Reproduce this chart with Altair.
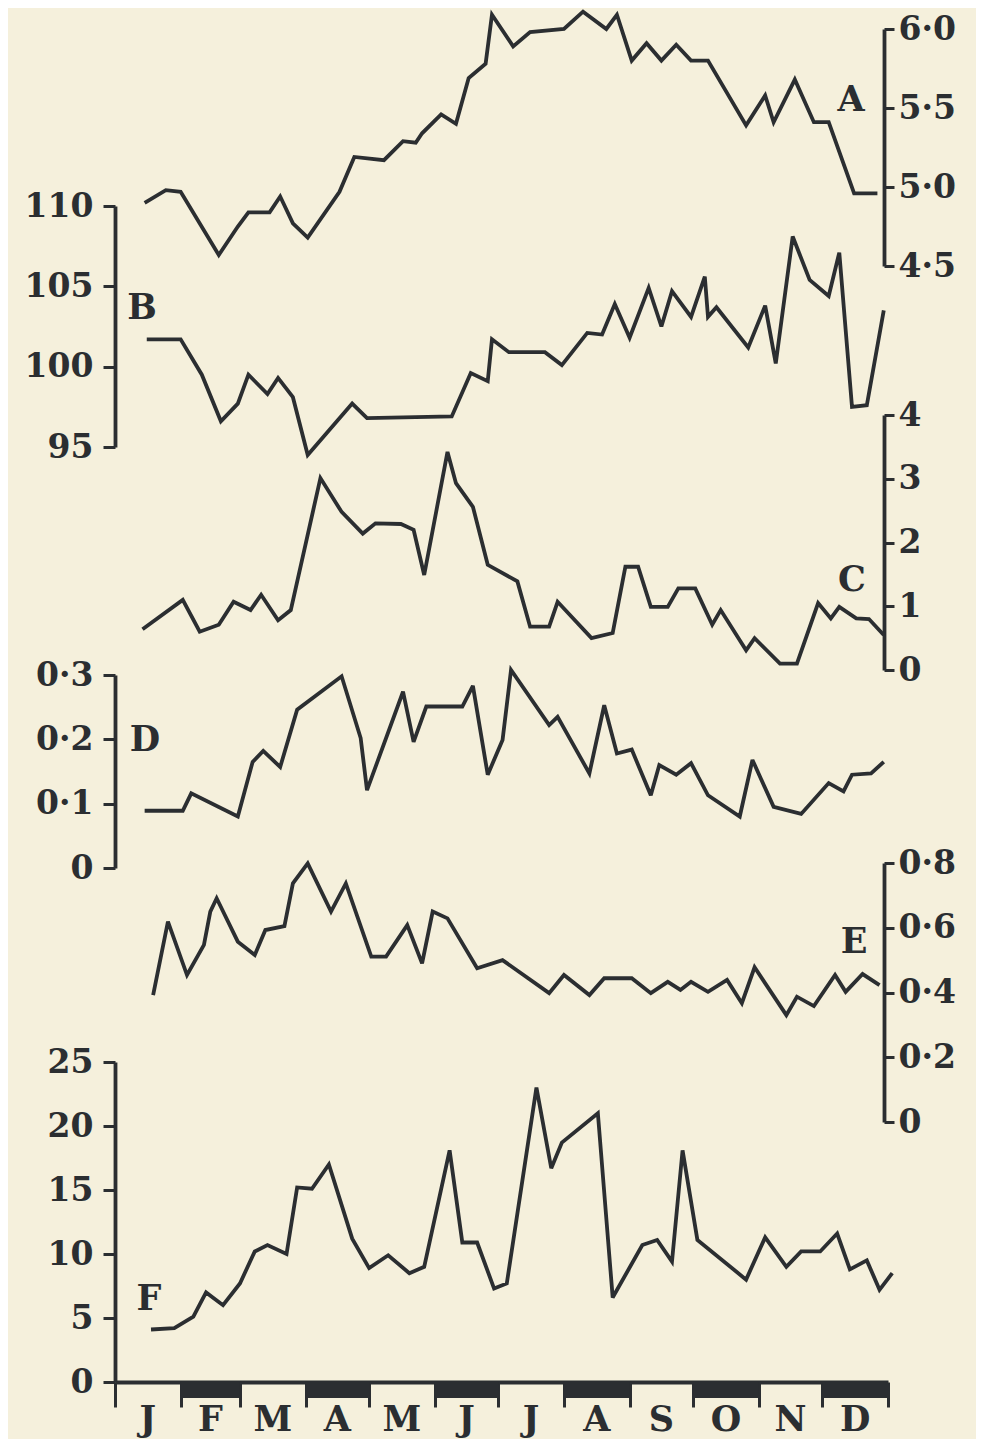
import altair as alt
import pandas as pd

INK = "#2b2e31"
BG = "#f5f0dc"
FONT = "DejaVu Serif"

# ---- data (x = day of year) ----
months = ["J", "F", "M", "A", "M", "J", "J", "A", "S", "O", "N", "D"]
month_start = [0, 31, 59, 90, 120, 151, 181, 212, 243, 273, 304, 334, 365]

a_day = [14, 24, 31, 49, 58, 63, 73, 78, 84, 91, 106, 113, 127, 136, 142, 145, 154, 161, 167, 175,
         178, 188, 196, 212, 221, 232, 237, 244, 251, 258, 265, 272, 280, 298, 307, 311, 321, 330, 337, 349, 360]
a_val = [4.90, 4.98, 4.97, 4.57, 4.75, 4.84, 4.84, 4.94, 4.77, 4.68, 4.97, 5.19, 5.17, 5.29, 5.28, 5.34, 5.46, 5.40, 5.69, 5.78,
         6.09, 5.89, 5.98, 6.00, 6.11, 6.00, 6.09, 5.80, 5.91, 5.80, 5.90, 5.80, 5.80, 5.39, 5.58, 5.41, 5.68, 5.41, 5.41, 4.96, 4.96]

b_day = [15, 31, 41, 50, 58, 63, 72, 77, 84, 91, 112, 119, 159, 168, 176, 178, 186, 203, 211, 223,
         230, 236, 243, 252, 258, 263, 272, 278.5, 280, 284, 299, 307, 312, 320, 328, 337, 342, 348, 355, 363]
b_val = [101.7, 101.7, 99.5, 96.6, 97.7, 99.5, 98.3, 99.3, 98.1, 94.5, 97.7, 96.8, 96.9, 99.6, 99.1, 101.7, 100.9, 100.9, 100.1, 102.1,
         102.0, 103.9, 101.8, 104.9, 102.5, 104.7, 103.1, 105.6, 103.1, 103.7, 101.2, 103.8, 100.2, 108.1, 105.4, 104.4, 107.1, 97.5, 97.6, 103.5]

c_day = [13, 32, 40, 49, 56, 64, 69, 77, 83, 97, 107, 117, 123, 135, 141, 146, 157, 161, 169, 176,
         190, 196, 205, 209, 225, 235, 241, 247, 253, 261, 266, 274, 282, 286, 298, 302, 314, 322, 332, 338,
         342, 350, 356, 363]
c_val = [0.64, 1.10, 0.60, 0.71, 1.07, 0.94, 1.18, 0.78, 0.94, 3.01, 2.48, 2.14, 2.30, 2.29, 2.20, 1.49, 3.42, 2.93, 2.56, 1.65,
         1.39, 0.68, 0.68, 1.07, 0.50, 0.58, 1.62, 1.62, 0.99, 0.99, 1.28, 1.28, 0.71, 0.94, 0.31, 0.50, 0.10, 0.10, 1.05, 0.81,
         0.99, 0.81, 0.80, 0.55]

d_day = [14, 32, 36, 58, 65, 70, 78, 86, 107, 116, 119, 136, 141, 147, 164, 169, 176, 183, 187, 205,
         209, 224, 231, 237, 244, 253, 257, 265, 272, 280, 295, 301, 311, 324, 337, 344, 348, 357, 363]
d_val = [0.089, 0.089, 0.116, 0.080, 0.165, 0.182, 0.157, 0.246, 0.298, 0.202, 0.121, 0.274, 0.196, 0.251, 0.251, 0.283, 0.145, 0.199, 0.308, 0.222,
         0.235, 0.147, 0.253, 0.178, 0.184, 0.113, 0.160, 0.145, 0.163, 0.113, 0.080, 0.168, 0.095, 0.084, 0.132, 0.119, 0.145, 0.147, 0.165]

e_day = [18, 25, 34, 42, 45, 48, 58, 66, 71, 80, 84, 91, 102, 109, 121, 128, 138, 145, 150, 157,
         171, 183, 205, 212, 224, 231, 244, 253, 261, 267, 272, 280, 289, 296, 302, 317, 322, 330, 340, 345,
         353, 361]
e_val = [0.392, 0.619, 0.454, 0.547, 0.650, 0.691, 0.557, 0.516, 0.593, 0.605, 0.737, 0.799, 0.650, 0.737, 0.511, 0.511, 0.608, 0.490, 0.650, 0.629,
         0.475, 0.500, 0.398, 0.454, 0.392, 0.444, 0.444, 0.398, 0.433, 0.408, 0.433, 0.402, 0.439, 0.367, 0.478, 0.330, 0.387, 0.358, 0.454, 0.402,
         0.457, 0.423]

f_day = [17, 28, 37, 43, 51, 59, 66, 72, 81, 86, 93, 101, 112, 120, 129, 139, 146, 158, 164, 171,
         179, 185, 199, 206, 211, 228, 235, 249, 256, 263, 268, 275, 298, 307, 317, 324, 333, 341, 347, 355,
         361, 367]
f_val = [4.1, 4.2, 5.1, 7.0, 6.0, 7.7, 10.2, 10.7, 10.0, 15.2, 15.1, 17.0, 11.2, 8.9, 9.9, 8.5, 9.0, 18.1, 10.9, 10.9,
         7.3, 7.7, 23.0, 16.7, 18.7, 21.0, 6.6, 10.7, 11.1, 9.4, 18.1, 11.1, 8.0, 11.3, 9.0, 10.2, 10.2, 11.6, 8.8, 9.5,
         7.2, 8.5]

# ---- layout ----
W, H = 773, 1374
XS = alt.Scale(domain=[0, 365], nice=False, zero=False)
XAXIS = alt.Axis(
    orient="bottom", values=month_start, labels=False, title=None, grid=False,
    tickSize=25, tickWidth=3, tickColor=INK, domainColor=INK, domainWidth=4,
)

DEC = "replace(format(datum.value, '.1f'), '.', '·')"
DEC0 = "datum.value == 0 ? '0' : replace(format(datum.value, '.1f'), '.', '·')"
INT = "format(datum.value, 'd')"


def series(day, val, domain, rng, orient, ticks, expr):
    df = pd.DataFrame({"day": day, "value": val})
    left = orient == "left"
    axis = alt.Axis(
        orient=orient, values=ticks, labelExpr=expr, title=None, grid=False,
        offset=0 if left else -4,
        domainColor=INK, domainWidth=3.8, tickColor=INK, tickWidth=3,
        tickSize=12 if left else 10,
        labelFont=FONT, labelFontWeight="bold", labelFontSize=33, labelColor=INK,
        labelPadding=10 if left else 4, labelOverlap=False, labelFlush=False,
    )
    return alt.Chart(df).mark_line(
        color=INK, strokeWidth=3.8, strokeJoin="miter", strokeMiterLimit=3
    ).encode(
        x=alt.X("day:Q", scale=XS, axis=XAXIS),
        y=alt.Y("value:Q", scale=alt.Scale(domain=domain, range=rng, zero=False, nice=False), axis=axis),
    )


# month bars under the time axis (Feb, Apr, Jun, Aug, Oct, Dec)
bars = pd.DataFrame({"start": month_start[1:12:2], "end": month_start[2:13:2]})
layers = [
    alt.Chart(bars).mark_rect(color=INK).encode(
        x=alt.X("start:Q", scale=XS, axis=XAXIS), x2="end:Q",
        y=alt.value(H), y2=alt.value(H + 16),
    )
]

layers += [
    series(a_day, a_val, [4.5, 6.0], [258, 21], "right", [4.5, 5.0, 5.5, 6.0], DEC),
    series(b_day, b_val, [95, 110], [439, 198], "left", [95, 100, 105, 110], INT),
    series(c_day, c_val, [0, 4], [662, 407], "right", [0, 1, 2, 3, 4], INT),
    series(d_day, d_val, [0, 0.3], [860, 667], "left", [0, 0.1, 0.2, 0.3], DEC0),
    series(e_day, e_val, [0, 0.8], [1114, 855], "right", [0, 0.2, 0.4, 0.6, 0.8], DEC0),
    series(f_day, f_val, [0, 25], [1374, 1054], "left", [0, 5, 10, 15, 20, 25], INT),
]

mlab = pd.DataFrame({
    "label": months,
    "mid": [(month_start[i] + month_start[i + 1]) / 2 for i in range(12)],
})
layers.append(
    alt.Chart(mlab).mark_text(
        font=FONT, fontWeight="bold", fontSize=35, color=INK, baseline="middle", align="center"
    ).encode(x=alt.X("mid:Q", scale=XS, axis=XAXIS), y=alt.value(H + 38), text="label:N")
)

letter_pos = {"A": (736, 92), "B": (27, 300), "C": (737, 572), "D": (30, 732), "E": (739, 934), "F": (34, 1291)}
for name, (px, py) in letter_pos.items():
    layers.append(
        alt.Chart(pd.DataFrame({"name": [name]})).mark_text(
            font=FONT, fontWeight="bold", fontSize=35, color=INK, baseline="middle", align="center"
        ).encode(x=alt.value(px), y=alt.value(py), text="name:N")
    )

chart = alt.layer(*layers).resolve_scale(y="independent").properties(
    width=W, height=H,
    autosize=alt.AutoSizeParams(type="none"),
    padding={"left": 107, "top": 0, "right": 88, "bottom": 57},
    background=BG,
).configure_view(strokeWidth=0)

chart.save("out.html", embed_options={"renderer": "svg", "actions": False})
